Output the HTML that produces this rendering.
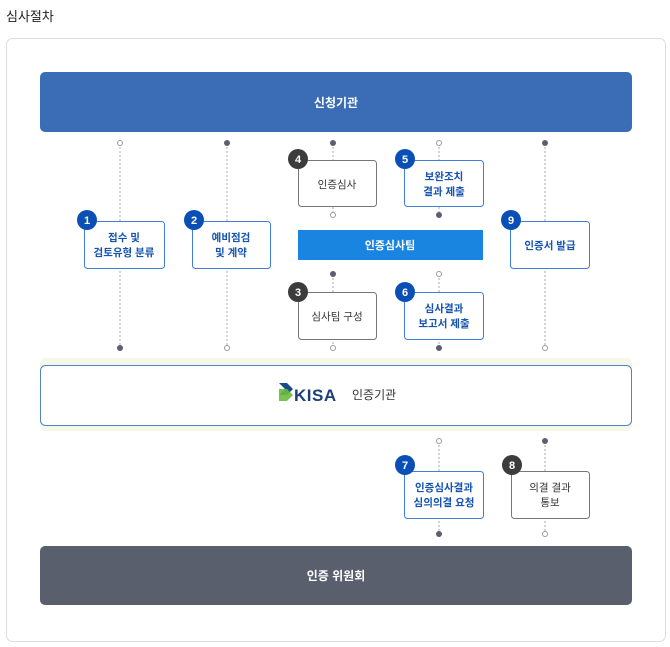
<!DOCTYPE html>
<html><head><meta charset="utf-8"><style>
html,body{margin:0;padding:0;background:#fff;}
svg{display:block;font-family:"Liberation Sans","Noto Sans CJK KR",sans-serif;}
</style></head><body>
<svg width="670" height="647" viewBox="0 0 670 647" xmlns="http://www.w3.org/2000/svg">
<text x="6" y="21" font-size="13" fill="#222">심사절차</text>
<rect x="6.5" y="38.5" width="659" height="603" rx="6" fill="#fff" stroke="#ddd"/>
<rect x="40" y="72" width="592" height="60" rx="5" fill="#3a6db5"/>
<text x="336" y="107" font-size="12" font-weight="600" fill="#fff" text-anchor="middle">신청기관</text>
<g stroke="#aaa" stroke-dasharray="2,2" stroke-width="1">
<line x1="120" y1="143" x2="120" y2="348"/>
<line x1="227" y1="143" x2="227" y2="348"/>
<line x1="333" y1="143" x2="333" y2="215"/>
<line x1="333" y1="274" x2="333" y2="348"/>
<line x1="439" y1="143" x2="439" y2="215"/>
<line x1="439" y1="274" x2="439" y2="348"/>
<line x1="545" y1="143" x2="545" y2="348"/>
<line x1="439" y1="441" x2="439" y2="534"/>
<line x1="545" y1="441" x2="545" y2="534"/>
</g>
<rect x="40" y="358" width="592" height="73" rx="6" fill="#f3f8ea"/>
<rect x="40.5" y="365.5" width="591" height="60" rx="5" fill="#fff" stroke="#4f86c0"/>
<path d="M279 383 L287 383 L293 389 L287 395 L279 395 L285 389 Z" fill="#1a4a8a"/>
<path d="M279 389 L287 389 L293 395 L287 401 L279 401 Z" fill="#6cbb3c" opacity="0.9"/>
<text x="294" y="401" font-size="17" font-weight="bold" fill="#1a3f7a" letter-spacing="0.5">KISA</text>
<text x="352" y="399" font-size="12" fill="#333">인증기관</text>
<rect x="298" y="230" width="185" height="30" fill="#1a85e0"/>
<text x="390" y="249" font-size="11" font-weight="bold" fill="#fff" text-anchor="middle">인증심사팀</text>
<rect x="40" y="546" width="592" height="59" rx="5" fill="#5a5f6e"/>
<text x="336" y="580" font-size="12" font-weight="600" fill="#fff" text-anchor="middle">인증 위원회</text>
<g font-size="10.5" text-anchor="middle">
<g font-weight="600" fill="#1553b0">
<rect x="84.5" y="221.5" width="80" height="47" rx="3" fill="#fff" stroke="#3f7fd6"/>
<text x="124" y="241">접수 및</text><text x="124" y="256">검토유형 분류</text>
<rect x="192.5" y="221.5" width="78" height="47" rx="3" fill="#fff" stroke="#3f7fd6"/>
<text x="231" y="241">예비점검</text><text x="231" y="256">및 계약</text>
<rect x="404.5" y="160.5" width="79" height="46" rx="3" fill="#fff" stroke="#3f7fd6"/>
<text x="444" y="180">보완조치</text><text x="444" y="195">결과 제출</text>
<rect x="404.5" y="292.5" width="79" height="47" rx="3" fill="#fff" stroke="#3f7fd6"/>
<text x="444" y="312">심사결과</text><text x="444" y="327">보고서 제출</text>
<rect x="510.5" y="221.5" width="79" height="47" rx="3" fill="#fff" stroke="#3f7fd6"/>
<text x="550" y="249">인증서 발급</text>
<rect x="404.5" y="471.5" width="79" height="47" rx="3" fill="#fff" stroke="#3f7fd6"/>
<text x="444" y="491">인증심사결과</text><text x="444" y="506">심의의결 요청</text>
</g>
<rect x="298.5" y="160.5" width="78" height="46" rx="3" fill="#fff" stroke="#777"/>
<text x="337" y="188" fill="#333">인증심사</text>
<rect x="298.5" y="292.5" width="78" height="47" rx="3" fill="#fff" stroke="#777"/>
<text x="337" y="320" fill="#333">심사팀 구성</text>
<rect x="511.5" y="471.5" width="78" height="47" rx="3" fill="#fff" stroke="#777"/>
<text x="550" y="491" fill="#333">의결 결과</text><text x="550" y="506" fill="#333">통보</text>
</g>
<g stroke="#999" stroke-width="1">
<circle cx="120" cy="143" r="2.5" fill="#fff"/><circle cx="120" cy="348" r="3" fill="#5a6070" stroke="none"/>
<circle cx="227" cy="143" r="3" fill="#5a6070" stroke="none"/><circle cx="227" cy="348" r="2.5" fill="#fff"/>
<circle cx="333" cy="143" r="3" fill="#5a6070" stroke="none"/><circle cx="333" cy="215" r="2.5" fill="#fff"/>
<circle cx="333" cy="274" r="3" fill="#5a6070" stroke="none"/><circle cx="333" cy="348" r="2.5" fill="#fff"/>
<circle cx="439" cy="143" r="2.5" fill="#fff"/><circle cx="439" cy="215" r="3" fill="#5a6070" stroke="none"/>
<circle cx="439" cy="274" r="2.5" fill="#fff"/><circle cx="439" cy="348" r="3" fill="#5a6070" stroke="none"/>
<circle cx="545" cy="143" r="3" fill="#5a6070" stroke="none"/><circle cx="545" cy="348" r="2.5" fill="#fff"/>
<circle cx="439" cy="441" r="2.5" fill="#fff"/><circle cx="439" cy="534" r="3" fill="#5a6070" stroke="none"/>
<circle cx="545" cy="441" r="3" fill="#5a6070" stroke="none"/><circle cx="545" cy="534" r="2.5" fill="#fff"/>
</g>
<g font-size="11" font-weight="bold" fill="#fff" text-anchor="middle">
<circle cx="87" cy="220" r="10" fill="#0a4fb5"/><text x="87" y="224">1</text>
<circle cx="194" cy="220" r="10" fill="#0a4fb5"/><text x="194" y="224">2</text>
<circle cx="298" cy="159" r="10" fill="#3c3c3c"/><text x="298" y="163">4</text>
<circle cx="405" cy="159" r="10" fill="#0a4fb5"/><text x="405" y="163">5</text>
<circle cx="298" cy="292" r="10" fill="#3c3c3c"/><text x="298" y="296">3</text>
<circle cx="405" cy="292" r="10" fill="#0a4fb5"/><text x="405" y="296">6</text>
<circle cx="511" cy="220" r="10" fill="#0a4fb5"/><text x="511" y="224">9</text>
<circle cx="405" cy="465" r="10" fill="#0a4fb5"/><text x="405" y="469">7</text>
<circle cx="512" cy="465" r="10" fill="#3c3c3c"/><text x="512" y="469">8</text>
</g>
</svg>
</body></html>
